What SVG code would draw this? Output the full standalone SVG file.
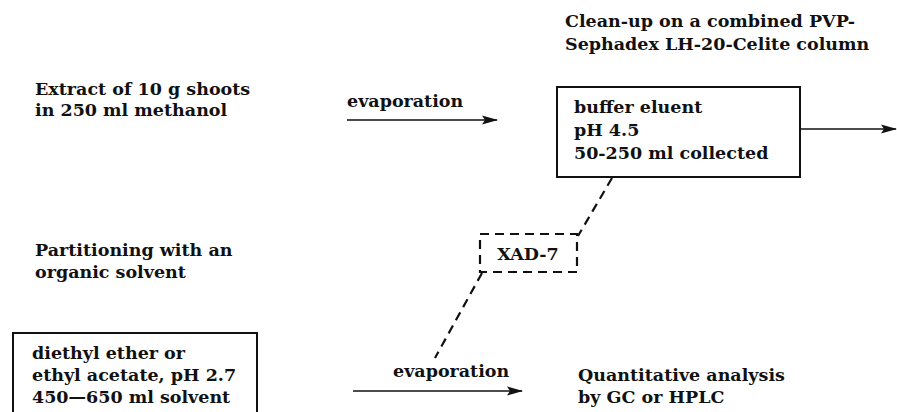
<svg xmlns="http://www.w3.org/2000/svg" width="897" height="412" viewBox="0 0 897 412">
  <style>
    text { font-family: "DejaVu Serif", "Liberation Serif", serif; font-size: 17.5px; font-weight: bold; fill: #111; }
    .box { fill: none; stroke: #111; stroke-width: 2; }
    .dash { fill: none; stroke: #111; stroke-width: 2.2; stroke-dasharray: 9 6; }
    .flow { fill: none; stroke: #111; stroke-width: 1.6; }
  </style>
  <defs>
    <marker id="arrow" viewBox="0 0 16 10" refX="15" refY="5" markerWidth="16" markerHeight="10" markerUnits="userSpaceOnUse" orient="auto">
      <path d="M0,0.5 L16,5 L0,9.5 L3,5 Z" fill="#111"/>
    </marker>
  </defs>
  <rect width="897" height="412" fill="#fff"/>

  <g id="extract">
    <text x="35" y="95">Extract of 10 g shoots</text>
    <text x="35" y="116">in 250 ml methanol</text>
  </g>

  <g id="cleanup-title">
    <text x="565" y="27">Clean-up on a combined PVP-</text>
    <text x="565" y="50">Sephadex LH-20-Celite column</text>
  </g>

  <g id="column">
    <rect class="box" x="557" y="87" width="243" height="90"/>
    <text x="574" y="113">buffer eluent</text>
    <text x="574" y="136">pH 4.5</text>
    <text x="574" y="159">50-250 ml collected</text>
  </g>

  <g id="partitioning">
    <text x="35" y="256">Partitioning with an</text>
    <text x="35" y="278">organic solvent</text>
  </g>

  <g id="xad">
    <rect class="dash" x="480" y="234" width="97" height="38"/>
    <text x="528" y="260" text-anchor="middle">XAD-7</text>
  </g>

  <g id="solvent">
    <path class="box" d="M13,413 V333 H257 V413"/>
    <text x="32" y="359">diethyl ether or</text>
    <text x="32" y="381">ethyl acetate, pH 2.7</text>
    <text x="32" y="403">450—650 ml solvent</text>
  </g>

  <g id="analysis">
    <text x="578" y="381">Quantitative analysis</text>
    <text x="578" y="403">by GC or HPLC</text>
  </g>

  <g id="connectors">
    <text x="347" y="107">evaporation</text>
    <line class="flow" x1="347" y1="120" x2="497" y2="120" marker-end="url(#arrow)"/>
    <line class="flow" x1="800" y1="129" x2="896" y2="129" marker-end="url(#arrow)"/>
    <line class="dash" x1="612" y1="178" x2="578" y2="236"/>
    <line class="dash" x1="482" y1="273" x2="435" y2="358"/>
    <text x="393" y="377">evaporation</text>
    <line class="flow" x1="353" y1="391" x2="522" y2="391" marker-end="url(#arrow)"/>
  </g>
</svg>
